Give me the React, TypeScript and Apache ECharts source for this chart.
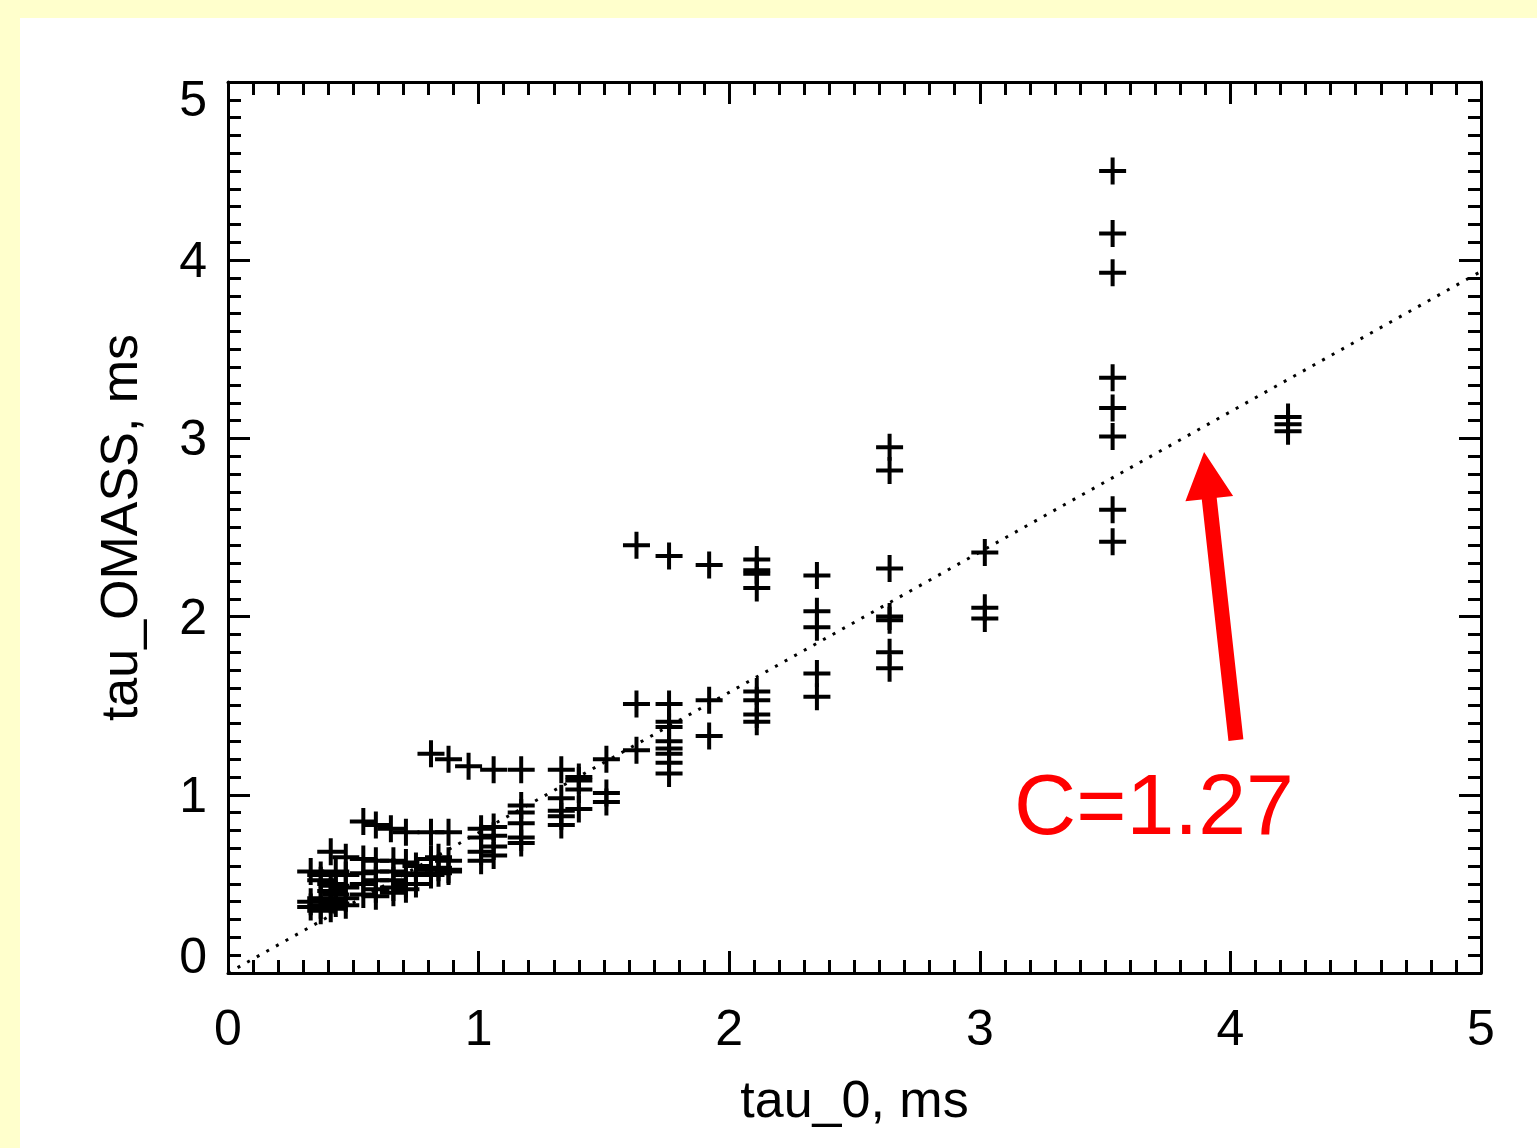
import React, { useEffect, useRef } from "react";
import * as echarts from "echarts";

// axis ticks (major) for both axes
const axisTicks = [0, 1, 2, 3, 4, 5];

// measured points: tau_0 (ms) vs tau_OMASS (ms)
const tau0 = [
  // top row of small-tau cluster
  0.54, 0.59, 0.65, 0.71, 0.81, 0.88, 1.01, 1.06,
  // row ~0.65
  0.41, 0.47, 0.54, 0.59, 0.66, 0.71, 0.75, 0.81, 0.84, 0.88, 1.01, 1.06, 1.01,
  // row ~0.56
  0.33, 0.37, 0.43, 0.47, 0.54, 0.59, 0.66, 0.71, 0.75, 0.81, 0.81, 0.84, 0.84, 0.88, 0.88,
  // row ~0.5
  0.37, 0.41, 0.43, 0.47, 0.54, 0.59, 0.59, 0.66, 0.66, 0.71, 0.71, 0.75,
  // row ~0.43
  0.33, 0.37, 0.41, 0.41, 0.43, 0.47, 0.54, 0.59, 0.66,
  // row ~0.37
  0.33, 0.37, 0.37, 0.41, 0.43, 0.47,
  // upper branch ~1.2
  0.81, 0.88, 0.96, 1.06, 1.17, 1.33, 1.51, 1.63,
  // mid points
  1.01, 1.06, 1.06, 1.17, 1.17, 1.17, 1.17, 1.17,
  1.33, 1.33, 1.33, 1.33, 1.40, 1.40, 1.40, 1.40, 1.51, 1.51,
  // column 1.63
  1.63, 1.63,
  // column 1.76
  1.76, 1.76, 1.76, 1.76, 1.76, 1.76, 1.76, 1.76, 1.76,
  // column 1.92
  1.92, 1.92, 1.92,
  // column 2.11
  2.11, 2.11, 2.11, 2.11, 2.11, 2.11, 2.11, 2.11,
  // column 2.35
  2.35, 2.35, 2.35, 2.35, 2.35,
  // column 2.64
  2.64, 2.64, 2.64, 2.64, 2.64, 2.64, 2.64,
  // column 3.02
  3.02, 3.02, 3.02,
  // column 3.53
  3.53, 3.53, 3.53, 3.53, 3.53, 3.53, 3.53, 3.53,
  // column 4.23
  4.23, 4.23, 4.23,
];

const tauOmass = [
  0.85, 0.83, 0.81, 0.79, 0.79, 0.79, 0.81, 0.82,
  0.68, 0.65, 0.64, 0.63, 0.63, 0.62, 0.60, 0.64, 0.65, 0.63, 0.68, 0.66, 0.63,
  0.57, 0.55, 0.57, 0.55, 0.56, 0.57, 0.57, 0.55, 0.56, 0.58, 0.55, 0.59, 0.56, 0.57, 0.58,
  0.52, 0.50, 0.49, 0.48, 0.50, 0.52, 0.47, 0.52, 0.48, 0.50, 0.47, 0.50,
  0.40, 0.42, 0.46, 0.41, 0.44, 0.42, 0.44, 0.43, 0.45,
  0.37, 0.38, 0.35, 0.36, 0.39, 0.38,
  1.23, 1.20, 1.16, 1.14, 1.14, 1.14, 1.20, 1.25,
  0.76, 0.77, 0.71, 0.94, 0.90, 0.84, 0.76, 0.73,
  0.98, 0.91, 0.88, 0.83, 1.10, 1.08, 1.03, 0.92, 1.01, 0.96,
  2.40, 1.51,
  2.34, 1.51, 1.41, 1.38, 1.30, 1.26, 1.23, 1.18, 1.12,
  2.29, 1.53, 1.33,
  2.32, 2.26, 2.24, 2.16, 1.58, 1.53, 1.45, 1.41,
  2.23, 2.03, 1.94, 1.68, 1.55,
  2.95, 2.82, 2.27, 2.00, 1.98, 1.80, 1.71,
  2.36, 2.05, 1.99,
  4.50, 4.15, 3.93, 3.34, 3.17, 3.01, 2.60, 2.42,
  3.12, 3.08, 3.04,
];

// fitted relation tau_OMASS = tau_0 / C
const fitC = 1.27;
const fitX = [0, 5];

// annotation (data coordinates)
const annotationText = "C=1.27";
const annotationPos = [3.695, 0.95];
const arrowTail = [4.022, 1.307];
const arrowTip = [3.895, 2.924];

const FONT = "Liberation Sans";
const PLUS =
  "path://M11.5,0H15.5V11.5H27V15.5H15.5V27H11.5V15.5H0V11.5H11.5Z";

function makeAxis(position: string, showLabel: boolean, name?: string) {
  const isY = position === "left" || position === "right";
  return {
    type: "value",
    min: axisTicks[0],
    max: axisTicks[axisTicks.length - 1],
    interval: axisTicks[1] - axisTicks[0],
    position,
    name: name || "",
    nameLocation: "middle",
    nameGap: isY ? 83 : 100,
    nameTextStyle: { fontFamily: FONT, fontSize: 52, color: "#000" },
    axisLine: { show: true, onZero: false, lineStyle: { color: "#000", width: 3 } },
    axisTick: { show: true, inside: true, length: 22, lineStyle: { color: "#000", width: 3 } },
    minorTick: { show: true, splitNumber: 10, length: 13, lineStyle: { color: "#000", width: 3 } },
    splitLine: { show: false },
    minorSplitLine: { show: false },
    axisLabel: showLabel
      ? {
          show: true,
          fontFamily: FONT,
          fontSize: 50,
          color: "#000",
          margin: isY ? 21 : 30,
          ...(isY
            ? { lineHeight: 34, verticalAlignMinLabel: "bottom", verticalAlignMaxLabel: "top" }
            : {}),
        }
      : { show: false },
  };
}

export default function App() {
  const ref = useRef<HTMLDivElement>(null);

  useEffect(() => {
    const chart = echarts.init(ref.current!, null, { renderer: "svg" });
    const points = tau0.map((x, i) => [x, tauOmass[i]]);
    const fitLine = fitX.map((x) => [x, x / fitC]);

    chart.setOption({
      animation: false,
      backgroundColor: "#ffffff",
      grid: {
        left: 208,
        top: 64,
        right: 56,
        bottom: 175,
        containLabel: false,
        outerBoundsMode: "none",
      },
      xAxis: [makeAxis("bottom", true, "tau_0, ms"), makeAxis("top", false)],
      yAxis: [makeAxis("left", true, "tau_OMASS, ms"), makeAxis("right", false)],
      series: [
        {
          type: "line",
          data: fitLine,
          xAxisIndex: 0,
          yAxisIndex: 0,
          symbol: "none",
          lineStyle: { color: "#000", width: 3, type: [3, 8] },
          z: 1,
        },
        {
          type: "scatter",
          data: points,
          xAxisIndex: 0,
          yAxisIndex: 0,
          symbol: PLUS,
          symbolSize: 27,
          itemStyle: { color: "#000", opacity: 1 },
          z: 2,
        },
      ],
    });

    const tail = chart.convertToPixel({ gridIndex: 0 }, arrowTail) as number[];
    const tip = chart.convertToPixel({ gridIndex: 0 }, arrowTip) as number[];
    const lab = chart.convertToPixel({ gridIndex: 0 }, annotationPos) as number[];
    const dx = tip[0] - tail[0];
    const dy = tip[1] - tail[1];
    const len = Math.sqrt(dx * dx + dy * dy);
    const ux = dx / len;
    const uy = dy / len;
    const nx = -uy;
    const ny = ux;
    const headLen = 47;
    const sh = 7.5;
    const hh = 24;
    const bx = tip[0] - ux * headLen;
    const by = tip[1] - uy * headLen;
    const poly = [
      [tail[0] + nx * sh, tail[1] + ny * sh],
      [bx + nx * sh, by + ny * sh],
      [bx + nx * hh, by + ny * hh],
      [tip[0], tip[1]],
      [bx - nx * hh, by - ny * hh],
      [bx - nx * sh, by - ny * sh],
      [tail[0] - nx * sh, tail[1] - ny * sh],
    ];

    chart.setOption({
      graphic: [
        {
          type: "polygon",
          shape: { points: poly },
          style: { fill: "#ff0000" },
          z: 10,
        },
        {
          type: "text",
          x: lab[0],
          y: lab[1],
          style: {
            text: annotationText,
            fill: "#ff0000",
            fontSize: 86,
            fontFamily: FONT,
            align: "center",
            verticalAlign: "middle",
          },
          z: 10,
        },
      ],
    });

    return () => chart.dispose();
  }, []);

  return (
    <div
      style={{
        position: "fixed",
        left: 0,
        top: 0,
        width: 1537,
        height: 1148,
        background: "#ffffcc",
      }}
    >
      <div
        style={{
          position: "absolute",
          left: 20,
          top: 18,
          width: 1517,
          height: 1130,
          background: "#ffffff",
        }}
      >
        <div ref={ref} style={{ width: 1517, height: 1130 }} />
      </div>
    </div>
  );
}
